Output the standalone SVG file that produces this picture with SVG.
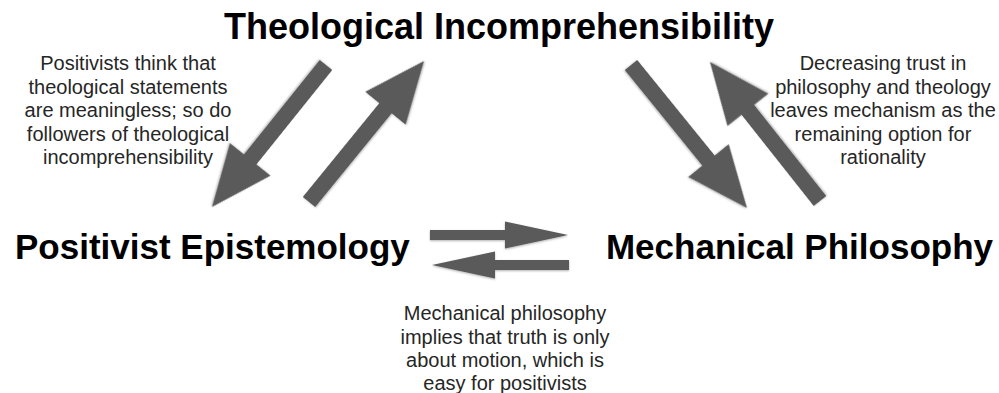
<svg xmlns="http://www.w3.org/2000/svg" width="999" height="393" viewBox="0 0 999 393">
<defs>
<filter id="sh" x="-20%" y="-20%" width="140%" height="140%">
<feDropShadow dx="0" dy="1" stdDeviation="1" flood-color="#000" flood-opacity="0.3"/>
</filter>
<style>
.head{font-family:"Liberation Sans",Arial,Helvetica,sans-serif;font-weight:bold;fill:#000;}
.note{font-family:"Liberation Sans",Arial,Helvetica,sans-serif;font-size:20px;fill:#262626;text-anchor:middle;}
.arr{fill:#5a5a5a;filter:url(#sh);}
</style>
</defs>
<rect width="999" height="393" fill="#fff"/>
<g id="connectors">
<polygon class="arr" transform="translate(326,65) rotate(128.76)" points="0,-8 121.1,-8 121.1,-26 182.1,0 121.1,26 121.1,8 0,8"/>
<polygon class="arr" transform="translate(309,202) rotate(-50.8)" points="0,-8 121,-8 121,-26 182,0 121,26 121,8 0,8"/>
<polygon class="arr" transform="translate(631,65) rotate(50.95)" points="0,-8 123.1,-8 123.1,-26 184.1,0 123.1,26 123.1,8 0,8"/>
<polygon class="arr" transform="translate(820,201) rotate(-128.36)" points="0,-8 116.3,-8 116.3,-26 177.3,0 116.3,26 116.3,8 0,8"/>
<polygon class="arr" points="430,230 505,230 505,221.5 568,235 505,248.5 505,240 430,240"/>
<polygon class="arr" points="569,260 495,260 495,251.5 432,265 495,278.5 495,270 569,270"/>
</g>
<g id="theological">
<text class="head" x="499" y="39" font-size="36" text-anchor="middle">Theological Incomprehensibility</text>
</g>
<g id="positivist">
<text class="head" x="15" y="259" font-size="35">Positivist Epistemology</text>
</g>
<g id="mechanical">
<text class="head" x="993" y="259" font-size="35" text-anchor="end">Mechanical Philosophy</text>
</g>
<g id="note-left">
<text class="note" x="128" y="70">Positivists think that</text>
<text class="note" x="128" y="93.5">theological statements</text>
<text class="note" x="128" y="117">are meaningless; so do</text>
<text class="note" x="128" y="140.5">followers of theological</text>
<text class="note" x="128" y="164">incomprehensibility</text>
</g>
<g id="note-right">
<text class="note" x="883" y="70">Decreasing trust in</text>
<text class="note" x="883" y="93.5">philosophy and theology</text>
<text class="note" x="883" y="117">leaves mechanism as the</text>
<text class="note" x="883" y="140.5">remaining option for</text>
<text class="note" x="883" y="164">rationality</text>
</g>
<g id="note-bottom">
<text class="note" x="505" y="320">Mechanical philosophy</text>
<text class="note" x="505" y="343.5">implies that truth is only</text>
<text class="note" x="505" y="367">about motion, which is</text>
<text class="note" x="505" y="390">easy for positivists</text>
</g>
</svg>
